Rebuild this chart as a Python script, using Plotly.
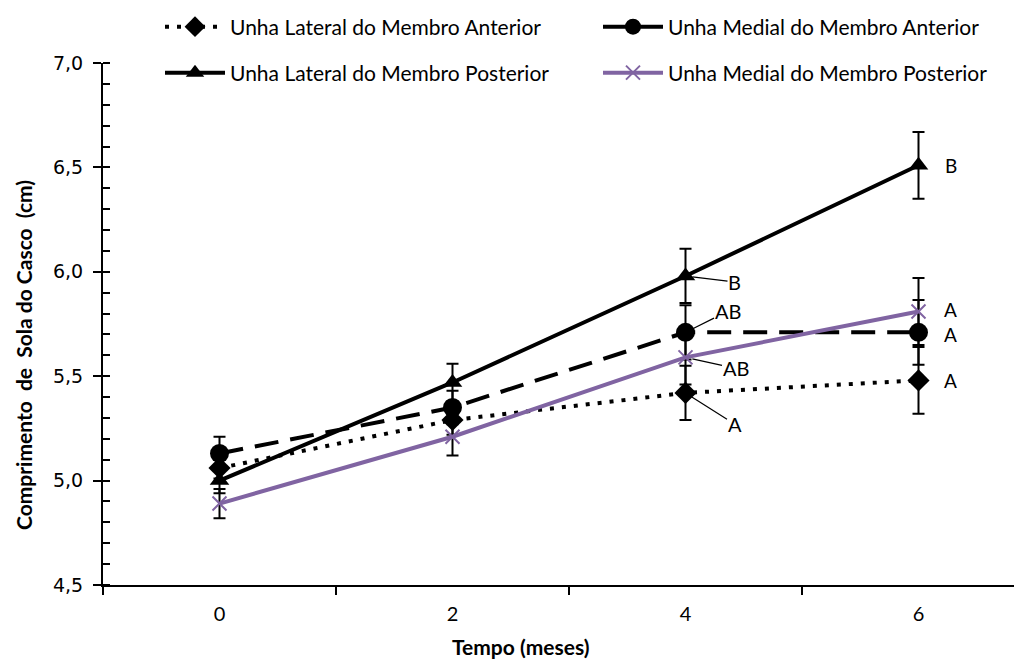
import plotly.graph_objects as go

# Tempo (meses)
tempo = [0, 2, 4, 6]

# Comprimento médio da sola do casco (cm) e erro padrão
lat_ant = [5.06, 5.29, 5.42, 5.48]
lat_ant_err = [0.05, 0.07, 0.13, 0.16]
med_ant = [5.13, 5.35, 5.71, 5.71]
med_ant_err = [0.08, 0.08, 0.13, 0.155]
lat_post = [5.00, 5.47, 5.98, 6.51]
lat_post_err = [0.06, 0.09, 0.13, 0.16]
med_post = [4.89, 5.21, 5.59, 5.81]
med_post_err = [0.07, 0.09, 0.13, 0.16]

# Letras de comparação (mês 4 e mês 6)
letras_4 = {"lat_ant": "A", "med_ant": "AB", "lat_post": "B", "med_post": "AB"}
letras_6 = {"lat_ant": "A", "med_ant": "A", "lat_post": "B", "med_post": "A"}

PURPLE = "#8064A2"
FONT = "Lato"

fig = go.Figure()

def err(vals):
    return dict(type="data", array=vals, visible=True, color="black",
                thickness=2, width=6)

fig.add_trace(go.Scatter(
    x=tempo, y=lat_ant, name="Unha Lateral do Membro Anterior",
    mode="lines+markers", legend="legend",
    line=dict(color="black", width=4, dash="4px,8px"),
    marker=dict(symbol="diamond", size=17, color="black"),
    error_y=err(lat_ant_err)))
fig.add_trace(go.Scatter(
    x=tempo, y=med_ant, name="Unha Medial do Membro Anterior",
    mode="lines+markers", legend="legend2",
    line=dict(color="black", width=4, dash="24px,12px"),
    marker=dict(symbol="circle", size=19, color="black"),
    error_y=err(med_ant_err)))
fig.add_trace(go.Scatter(
    x=tempo, y=lat_post, name="Unha Lateral do Membro Posterior",
    mode="lines+markers", legend="legend3",
    line=dict(color="black", width=4),
    marker=dict(symbol="triangle-up", size=17, color="black"),
    error_y=err(lat_post_err)))
fig.add_trace(go.Scatter(
    x=tempo, y=med_post, name="Unha Medial do Membro Posterior",
    mode="lines+markers", legend="legend4",
    line=dict(color=PURPLE, width=4),
    marker=dict(symbol="x-thin", size=14, color=PURPLE,
                line=dict(color=PURPLE, width=2)),
    error_y=err(med_post_err)))

series = {"lat_ant": lat_ant, "med_ant": med_ant,
          "lat_post": lat_post, "med_post": med_post}

# Rótulos no mês 4, com linhas de chamada
offsets_4 = {"lat_post": (49, 6), "med_ant": (42, -21),
             "med_post": (50, 11), "lat_ant": (49, 31)}
for key, (ax, ay) in offsets_4.items():
    fig.add_annotation(
        x=tempo[2], y=series[key][2], text=letras_4[key],
        showarrow=True, arrowhead=0, arrowwidth=1.2, arrowcolor="black",
        ax=ax, ay=ay, standoff=7, borderpad=0,
        font=dict(family=FONT, size=20, color="black"))

# Rótulos no mês 6
shift_6 = {"lat_ant": 0, "med_ant": -2, "lat_post": 0, "med_post": 2}
for key in letras_6:
    fig.add_annotation(
        x=tempo[3], y=series[key][3], text=letras_6[key],
        showarrow=False, xshift=32, yshift=shift_6[key], borderpad=0,
        font=dict(family=FONT, size=19, color="black"))

# Títulos dos eixos
fig.add_annotation(
    xref="paper", yref="paper", x=(520 - 103) / 911, y=-(633 - 585) / 522,
    xanchor="center", yanchor="top", borderpad=0,
    text="<b>Tempo (meses)</b>", showarrow=False,
    font=dict(family=FONT, size=21, color="black"))
fig.add_annotation(
    xref="paper", yref="paper", x=-(103 - 23) / 911, y=(585 - 355) / 522,
    xanchor="center", yanchor="middle",
    text="<b>Comprimento  de  Sola do Casco  (cm)</b>", showarrow=False,
    textangle=-90, font=dict(family=FONT, size=21, color="black"))

# Legenda em duas linhas e duas colunas, uma caixa por série
def leg(px_x, px_y):
    return dict(
        x=(px_x - 103) / 911, y=(585 - px_y) / 522,
        orientation="h", xanchor="left", yanchor="middle",
        bgcolor="rgba(0,0,0,0)",
        font=dict(family=FONT, size=21, color="black"), itemwidth=60)

fig.update_layout(
    width=1014, height=659,
    margin=dict(l=103, r=0, t=63, b=74),
    paper_bgcolor="white", plot_bgcolor="white",
    separators=",.",
    showlegend=True,
    legend=leg(160, 27),
    legend2=leg(598, 27),
    legend3=leg(160, 73),
    legend4=leg(598, 73),
    xaxis=dict(
        range=[-1, -1 + 911 / 116.5],
        tickvals=tempo, ticktext=[str(t) for t in tempo], ticks="",
        ticklabelstandoff=10,
        showgrid=False, zeroline=False,
        showline=True, linecolor="black", linewidth=2,
        tickfont=dict(family=FONT, size=20, color="black"),
        minor=dict(tickvals=[-1, 1, 3, 5], ticks="outside", ticklen=8,
                   tickcolor="black", tickwidth=1.5, showgrid=False)),
    yaxis=dict(
        range=[4.5, 7.0], dtick=0.5, tickformat=".1f",
        ticks="outside", ticklen=8, tickcolor="black", tickwidth=1.5,
        ticklabelstandoff=6,
        showgrid=False, zeroline=False,
        showline=True, linecolor="black", linewidth=2,
        tickfont=dict(family="DejaVu Sans", size=19, color="black"),
        minor=dict(dtick=0.1, ticks="inside", ticklen=7,
                   tickcolor="black", tickwidth=1.5, showgrid=False)),
)

fig.write_html("out.html")
